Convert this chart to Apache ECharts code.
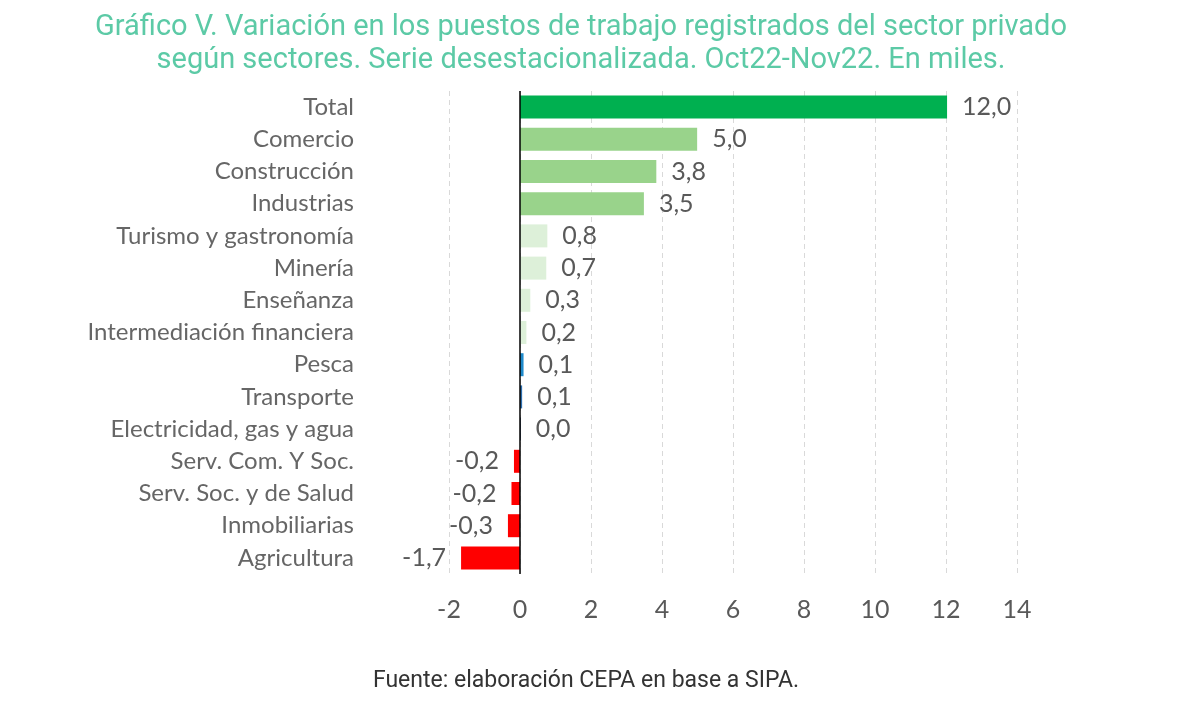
<!DOCTYPE html>
<html><head><meta charset="utf-8">
<script src="https://cdn.jsdelivr.net/npm/echarts@6/dist/echarts.min.js"></script>
<style>html,body{margin:0;padding:0;background:#fff}#c{width:1200px;height:704px}</style>
</head><body><div id="c"></div>
<script>
const categories = ["Total","Comercio","Construcción","Industrias","Turismo y gastronomía","Minería","Enseñanza","Intermediación financiera","Pesca","Transporte","Electricidad, gas y agua","Serv. Com. Y Soc.","Serv. Soc. y de Salud","Inmobiliarias","Agricultura"];
const values = [12.03, 4.99, 3.84, 3.49, 0.77, 0.74, 0.29, 0.18, 0.1, 0.06, 0.02, -0.17, -0.24, -0.34, -1.66];
const barColors = ["#00B050","#99D38B","#99D38B","#99D38B","#DDF0D9","#DDF0D9","#DDF0D9","#DDF0D9","#1F8ACB","#2E6FAE","#1F3A5C","#FF0000","#FF0000","#FF0000","#FF0000"];
const xTicks = [-2, 0, 2, 4, 6, 8, 10, 12, 14];
const titleText = "Gráfico V. Variación en los puestos de trabajo registrados del sector privado\nsegún sectores. Serie desestacionalizada. Oct22-Nov22. En miles.";
const footerText = "Fuente: elaboración CEPA en base a SIPA.";

const chart = echarts.init(document.getElementById('c'));
const fmt = v => v.toFixed(1).replace('.', ',');
chart.setOption({
  animation: false,
  title: [{
    text: titleText, left: 576, top: 6, textAlign: 'center',
    textStyle: {color: '#5CCAA6', fontFamily: 'Roboto', fontWeight: 'normal', fontSize: 29, lineHeight: 33}
  }, {
    text: footerText, left: 581, top: 665, textAlign: 'center',
    textStyle: {color: '#333333', fontFamily: 'Roboto', fontWeight: 'normal', fontSize: 23}
  }],
  grid: {left: 449, right: 183, top: 91, bottom: 130},
  xAxis: {
    type: 'value', min: xTicks[0], max: xTicks[xTicks.length-1], interval: 2,
    axisLine: {show: false}, axisTick: {show: false},
    splitLine: {show: true, lineStyle: {color: '#D9D9D9', type: [5, 4], width: 1}},
    axisLabel: {color: '#595959', fontFamily: 'Lato', fontSize: 25, margin: 23,
      formatter: v => String(v)}
  },
  yAxis: {
    type: 'category', data: categories, inverse: true,
    axisLine: {show: false}, axisTick: {show: false},
    axisLabel: {color: '#666666', fontFamily: 'Lato', fontSize: 24, margin: 95}
  },
  series: [{
    type: 'bar', barWidth: 23,
    data: values.map((v, i) => ({value: v, itemStyle: {color: barColors[i]},
      label: {position: v < 0 ? 'left' : 'right'}})),
    label: {show: true, distance: 15, color: '#595959', fontFamily: 'Lato', fontSize: 25,
      formatter: p => fmt(p.value)},
    markLine: {silent: true, symbol: 'none', label: {show: false},
      lineStyle: {color: '#000', type: 'solid', width: 1.5},
      data: [{xAxis: 0}]}
  }]
});
</script></body></html>
